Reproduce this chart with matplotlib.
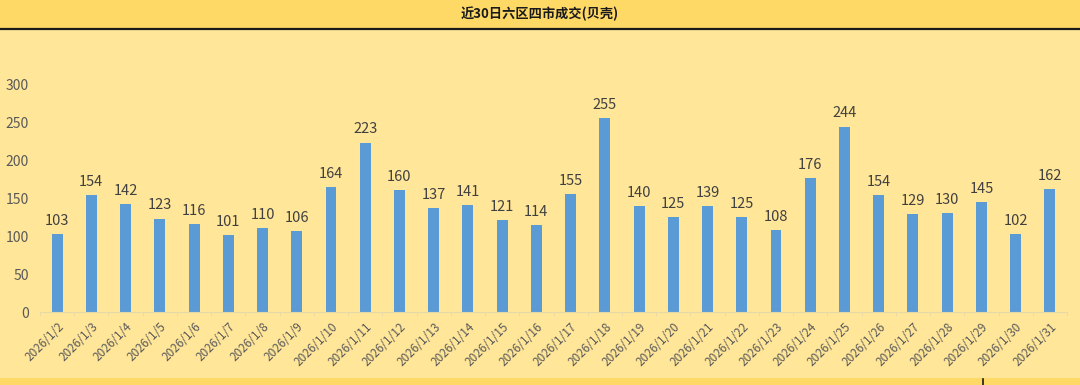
import matplotlib
matplotlib.use("Agg")
import matplotlib.pyplot as plt
from matplotlib.patches import Rectangle
from matplotlib.lines import Line2D
import numpy as np

plt.rcParams["font.family"] = ["Noto Sans CJK SC", "DejaVu Sans"]

title = "近30日六区四市成交(贝壳)"
dates = [f"2026/1/{d}" for d in range(2, 32)]
values = [103, 154, 142, 123, 116, 101, 110, 106, 164, 223,
          160, 137, 141, 121, 114, 155, 255, 140, 125, 139,
          125, 108, 176, 244, 154, 129, 130, 145, 102, 162]
yticks = [0, 50, 100, 150, 200, 250, 300]

W, H = 1080, 385
fig = plt.figure(figsize=(W / 100, H / 100), dpi=100)
fig.patch.set_facecolor("#FFE699")

# header band, separator and bottom strip
fig.patches.append(Rectangle((0, 1 - 28 / H), 1, 28 / H, transform=fig.transFigure,
                             facecolor="#FFD966", edgecolor="none", zorder=0))
fig.lines.append(Line2D([0, 1], [1 - 29 / H] * 2, transform=fig.transFigure,
                        color="#1a1a1a", linewidth=1.6))
fig.patches.append(Rectangle((0, 0), 1, 7 / H, transform=fig.transFigure,
                             facecolor="#FFD966", edgecolor="none", zorder=0))
fig.lines.append(Line2D([983 / W] * 2, [0, 6 / H], transform=fig.transFigure,
                        color="#1a1a1a", linewidth=1.2))
fig.text(0.5, 1 - 14 / H, title, ha="center", va="center", fontsize=9.5,
         fontweight="bold", color="#1a1a1a")

ax = fig.add_axes([40 / W, 1 - 312 / H, 1027 / W, 228 / H])
ax.set_facecolor("none")
x = np.arange(len(values))
bars = ax.bar(x, values, width=0.32, color="#5B9BD5", zorder=2)
for xi, v in zip(x, values):
    ax.text(xi, v + 8, str(v), ha="center", va="bottom", fontsize=10.5, color="#404040")

ax.set_xlim(-0.5, len(values) - 0.5)
ax.set_ylim(0, 300)
ax.set_yticks(yticks)
ax.set_yticklabels([str(t) for t in yticks], fontsize=10, color="#595959")
ax.set_xticks(x)
ax.set_xticklabels(dates, rotation=45, ha="right", rotation_mode="anchor",
                   fontsize=8.5, color="#595959")
ax.set_xticks(np.arange(-0.5, len(values), 1), minor=True)
ax.tick_params(axis="x", which="major", length=0, pad=6)
ax.tick_params(axis="x", which="minor", length=3, color="#E6D9A8")
ax.tick_params(axis="y", length=0, pad=8)
for s in ["top", "right", "left"]:
    ax.spines[s].set_visible(False)
ax.spines["bottom"].set_color("#E6D9A8")

fig.savefig("out.png", dpi=100, facecolor=fig.get_facecolor())
